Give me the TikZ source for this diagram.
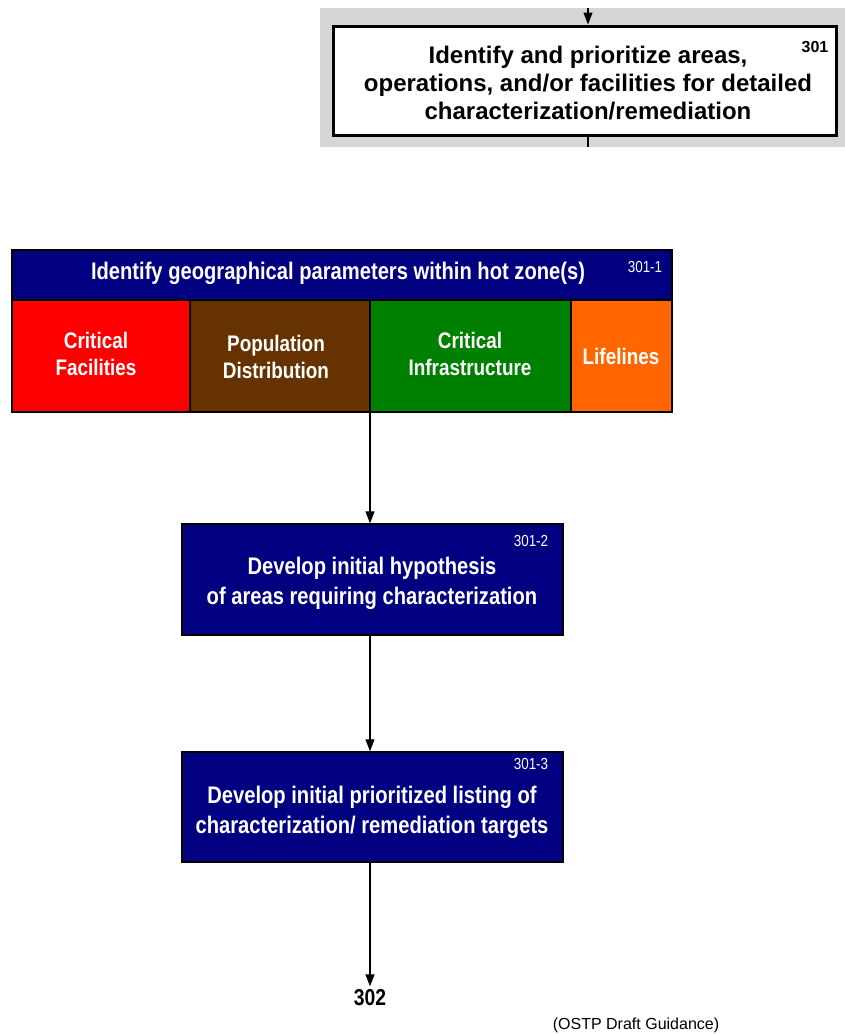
\documentclass[tikz,border=0pt]{standalone}
\usepackage{fontspec}
\setmainfont{Liberation Sans}
\newfontfamily\narrowsf[FakeStretch=0.84]{Liberation Sans}
\usetikzlibrary{arrows.meta}
\definecolor{navy}{HTML}{000080}
\definecolor{cellred}{HTML}{FF0000}
\definecolor{cellbrown}{HTML}{663300}
\definecolor{cellgreen}{HTML}{008000}
\definecolor{cellorange}{HTML}{FF6600}
\definecolor{panelgray}{HTML}{D6D6D6}
\begin{document}
\begin{tikzpicture}[x=1pt,y=-1pt,
  boxfont/.style={font=\narrowsf\bfseries\fontsize{24}{30}\selectfont, text=white, align=center},
  cellfont/.style={font=\narrowsf\bfseries\fontsize{22.5}{27}\selectfont, text=white, align=center},
  tagfont/.style={font=\narrowsf\fontsize{16}{18}\selectfont, text=white},
  cell/.style={draw=black, line width=1.4pt, minimum height=112pt, inner sep=0pt},
  navybox/.style={draw=black, line width=1.4pt, fill=navy, inner sep=0pt},
  flow/.style={line width=1.2pt, -{Triangle[length=12pt,width=9pt]}}]
\useasboundingbox (0,0) rectangle (845,1034);

% upper step on its grey panel
\fill[panelgray] (320,8) rectangle (845,147);
\node[draw=black, line width=3pt, fill=white, minimum width=503pt, minimum height=109pt, inner sep=0pt] (top) at (584.5,80.5) {};
\node[font=\bfseries\fontsize{24}{28}\selectfont, align=center] (toptext) at (588,83)
  {Identify and prioritize areas,\\operations, and/or facilities for detailed\\characterization/remediation};
\node[font=\bfseries\fontsize{16}{18}\selectfont] (toptag) at (815,47) {301};
\coordinate (topin) at (588,8);
\coordinate (topout) at (588,147);
\draw[flow] (topin) -- (topin |- top.north);
\draw[line width=1.2pt] (top.south -| topout) -- (topout);

% 301-1 header and parameter cells
\node[navybox, minimum width=660pt, minimum height=50pt] (head) at (342,275) {};
\node[boxfont] (headtext) at (338,273) {Identify geographical parameters within hot zone(s)};
\node[tagfont] (headtag) at (645,267) {301-1};
\node[cell, fill=cellred, minimum width=178pt] (facil) at (101,356) {};
\node[cell, fill=cellbrown, minimum width=180pt] (popul) at (280,356) {};
\node[cell, fill=cellgreen, minimum width=201pt] (infra) at (470.5,356) {};
\node[cell, fill=cellorange, minimum width=101pt] (life) at (621.5,356) {};
\node[cellfont] at (96,354) {Critical\\Facilities};
\node[cellfont] at (276,357) {Population\\Distribution};
\node[cellfont] at (470,354) {Critical\\Infrastructure};
\node[cellfont] at (621,356) {Lifelines};

% 301-2
\node[navybox, minimum width=381pt, minimum height=111pt] (hyp) at (372.5,579.5) {};
\node[boxfont] at (372,583) {Develop initial hypothesis\\of areas requiring characterization};
\node[tagfont] at (531,541) {301-2};

% 301-3
\node[navybox, minimum width=381pt, minimum height=110pt] (list) at (372.5,807) {};
\node[boxfont] at (372,812) {Develop initial prioritized listing of\\characterization/ remediation targets};
\node[tagfont] at (531,764) {301-3};

% next step and source
\node[font=\narrowsf\bfseries\fontsize{23}{25}\selectfont] (next) at (370,998) {302};
\node[font=\fontsize{16}{18}\selectfont] (src) at (636,1025) {(OSTP Draft Guidance)};

% vertical flow along the brown/green boundary
\coordinate (spine) at (370,0);
\draw[flow] (spine |- popul.south) -- (hyp.north -| spine);
\draw[flow] (hyp.south -| spine) -- (list.north -| spine);
\draw[flow] (list.south -| spine) -- (next.north);
\end{tikzpicture}
\end{document}
